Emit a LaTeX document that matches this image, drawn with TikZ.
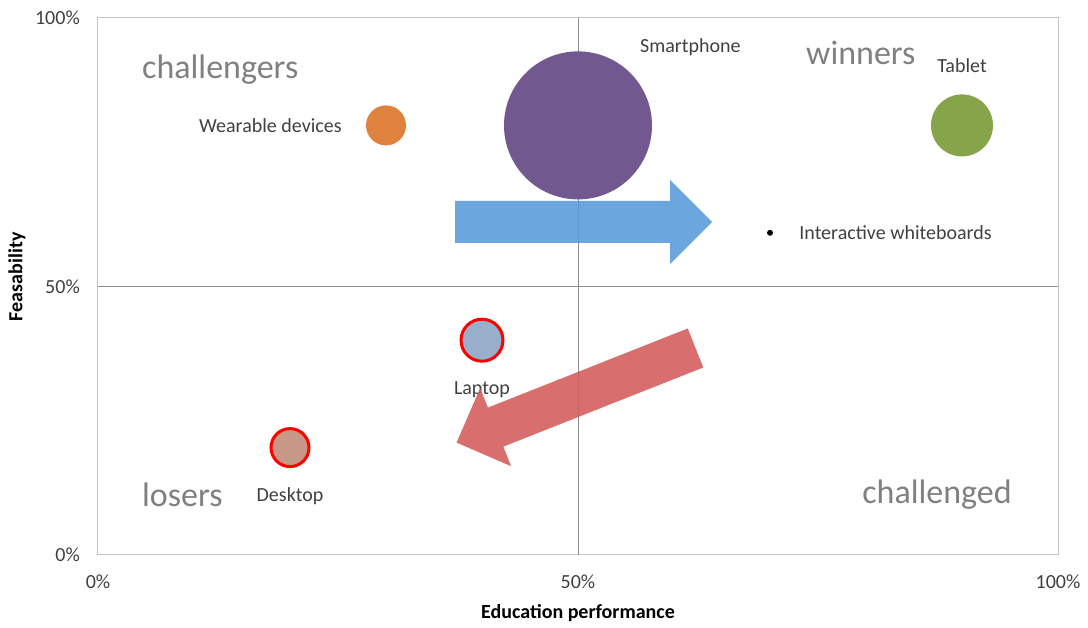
\documentclass[tikz,border=0pt]{standalone}
\usepackage{fontspec}
\setmainfont{Carlito}
\usetikzlibrary{positioning}

\definecolor{framegray}{HTML}{C4C4C4}
\definecolor{midgray}{HTML}{8C8C8C}
\definecolor{textgray}{HTML}{404040}
\definecolor{quadgray}{HTML}{808080}
\definecolor{phonecol}{HTML}{71588F}
\definecolor{tabletcol}{HTML}{86A44A}
\definecolor{wearcol}{HTML}{DE823E}
\definecolor{laptopcol}{HTML}{97AFCB}
\definecolor{desktopcol}{HTML}{C79886}
\definecolor{arrowblue}{HTML}{5C9CDC}
\definecolor{arrowred}{HTML}{D45F5E}

\tikzset{
  small/.style={font=\fontsize{20}{24}\selectfont, text=textgray, inner sep=0pt},
  quadrant/.style={font=\fontsize{34}{40}\selectfont, text=quadgray, inner sep=0pt, anchor=west},
  bubble/.style={circle, inner sep=0pt, minimum size=#1},
  redring/.style={draw=red, line width=3pt},
  trend/.pic={
    \fill (0pt,-21pt) -- (215pt,-21pt) -- (215pt,-42pt) -- (257pt,0pt)
      -- (215pt,42pt) -- (215pt,21pt) -- (0pt,21pt) -- cycle;
  }
}

\begin{document}
\begin{tikzpicture}[x=9.6pt, y=5.37pt]
  \useasboundingbox (-98pt,-73pt) rectangle (990pt,555pt);

  % plot area and quadrant lines
  \draw[framegray, line width=1pt] (0,0) rectangle (100,100);
  \draw[midgray, line width=0.8pt] (50,0) -- (50,100);
  \draw[midgray, line width=0.8pt] (0,50) -- (100,50);

  % ticks
  \node[small, anchor=east] (y100) at ([xshift=-18pt]0,100) {100\%};
  \node[small, anchor=east] (y50) at ([xshift=-18pt]0,50) {50\%};
  \node[small, anchor=east] (y0) at ([xshift=-18pt]0,0) {0\%};
  \node[small] (x0) at ([yshift=-27pt]0,0) {0\%};
  \node[small] (x50) at ([yshift=-27pt]50,0) {50\%};
  \node[small] (x100) at ([yshift=-27pt]100,0) {100\%};

  % axis titles
  \node[small, font=\fontsize{20}{24}\selectfont\bfseries, text=black] (xtitle) at ([yshift=-58pt]50,0) {Education performance};
  \node[small, font=\fontsize{20}{24}\selectfont\bfseries, text=black, rotate=90] (ytitle) at ([xshift=-81pt]0,51.8) {Feasability};

  % quadrants
  \node[quadrant] (challengers) at (4.58,90.4) {challengers};
  \node[quadrant] (winners) at (73.75,93.5) {winners};
  \node[quadrant] (losers) at (4.58,11.2) {losers};
  \node[quadrant] (challenged) at (79.6,11.2) {challenged};

  % bubbles
  \node[bubble=148pt, fill=phonecol] (phone) at (50,80) {};
  \node[bubble=62pt, fill=tabletcol] (tablet) at (90,80) {};
  \node[bubble=40pt, fill=wearcol] (wear) at (30,80) {};
  \node[bubble=6pt, fill=black] (board) at (70,60) {};
  \node[bubble=42pt, fill=laptopcol, redring] (laptop) at (40,40) {};
  \node[bubble=38pt, fill=desktopcol, redring] (desktop) at (20,20) {};

  % labels
  \node[small, anchor=west] (phonelbl) at (56.46,94.6) {Smartphone};
  \node[small, above=21pt of tablet] (tabletlbl) {Tablet};
  \node[small, left=24pt of wear] (wearlbl) {Wearable devices};
  \node[small, right=26pt of board] (boardlbl) {Interactive whiteboards};
  \node[small, below=19pt of laptop] (laptoplbl) {Laptop};
  \node[small, below=19pt of desktop] (desktoplbl) {Desktop};

  % trend arrows
  \pic[fill=arrowblue, fill opacity=0.9] at (37.19,62.01) {trend};
  \pic[fill=arrowred, fill opacity=0.9, rotate=201.6] at (62.24,38.55) {trend};
\end{tikzpicture}
\end{document}
